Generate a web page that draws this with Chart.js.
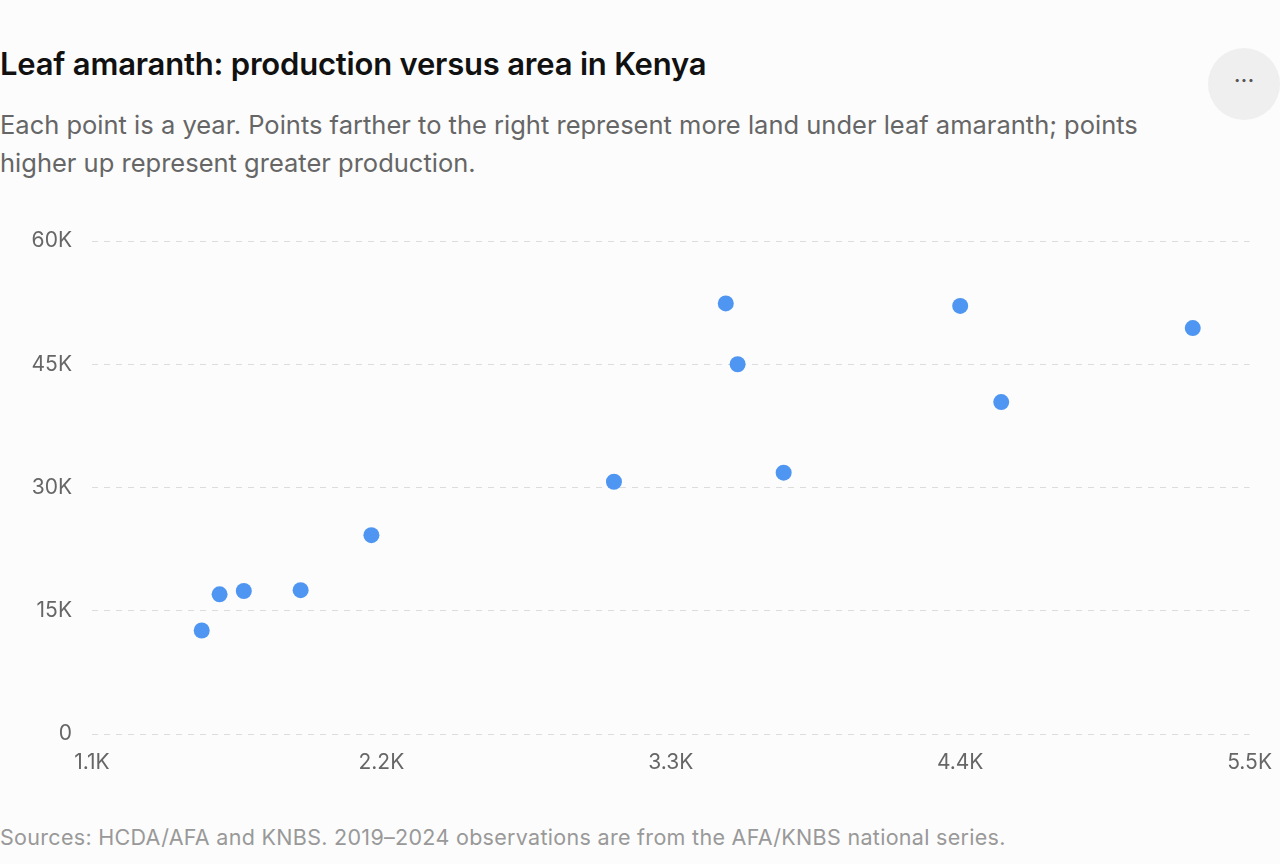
<!DOCTYPE html>
<html>
<head>
<meta charset="utf-8">
<script src="https://cdn.jsdelivr.net/npm/chart.js@4"></script>
<style>
  body { margin: 0; background: #fcfcfc; font-family: Inter, "Noto Sans", sans-serif; width: 1280px; height: 864px; overflow: hidden; position: relative; }
  h1 { position: absolute; left: 0; top: 45px; margin: 0; font-size: 31px; font-weight: 600; color: #111; letter-spacing: -0.2px; }
  .sub { position: absolute; left: 0; top: 106px; margin: 0; font-size: 25.5px; line-height: 38px; color: #666; width: 1150px; }
  .menu { position: absolute; left: 1208px; top: 48px; width: 72px; height: 72px; border-radius: 50%; background: #efefef; color: #555; font-size: 24px; text-align: center; line-height: 66px; }
  .foot { position: absolute; left: 0; top: 824px; font-size: 21.5px; letter-spacing: 0.3px; color: #999; }
  #wrap { position: absolute; left: 0; top: 200px; width: 1280px; height: 600px; }
</style>
</head>
<body>
<h1>Leaf amaranth: production versus area in Kenya</h1>
<p class="sub">Each point is a year. Points farther to the right represent more land under leaf amaranth; points higher up represent greater production.</p>
<div class="menu">···</div>
<div id="wrap"><canvas id="c"></canvas></div>
<div class="foot">Sources: HCDA/AFA and KNBS. 2019–2024 observations are from the AFA/KNBS national series.</div>
<script>
// area (ha) and production (t), one point per year
const areaHa = [1517, 1585, 1677, 1893, 2162, 3084, 3509, 3554, 3729, 4400, 4556, 5284];
const productionT = [12600, 17000, 17400, 17500, 24200, 30700, 52400, 45000, 31800, 52100, 40400, 49400];

const fmtK = v => v === 0 ? '0' : (v / 1000).toFixed(v % 1000 === 0 ? 0 : 1) + 'K';

new Chart(document.getElementById('c'), {
    type: 'scatter',
    data: {
        datasets: [{
            data: areaHa.map((x, i) => ({ x: x, y: productionT[i] })),
            backgroundColor: '#4f96f2',
            borderWidth: 0,
            pointRadius: 8,
            pointHoverRadius: 9
        }]
    },
    options: {
        responsive: true,
        maintainAspectRatio: false,
        animation: false,
        layout: { padding: { top: 41, right: 30 } },
        plugins: { legend: { display: false }, tooltip: { enabled: false } },
        scales: {
            x: {
                min: 1100, max: 5500,
                border: { display: false },
                grid: { display: false },
                afterFit: s => { s.height = 66; },
                ticks: { stepSize: 1100, callback: fmtK, color: '#666', font: { size: 21, family: 'Inter' }, maxRotation: 0, padding: 8 }
            },
            y: {
                min: 0, max: 60000,
                border: { display: false, dash: [6, 6] },
                grid: { color: '#dcdcdc', drawTicks: false },
                afterFit: s => { s.width = 92; },
                ticks: { stepSize: 15000, callback: fmtK, color: '#666', font: { size: 21, family: 'Inter' }, padding: 20 }
            }
        }
    }
});
</script>
</body>
</html>
